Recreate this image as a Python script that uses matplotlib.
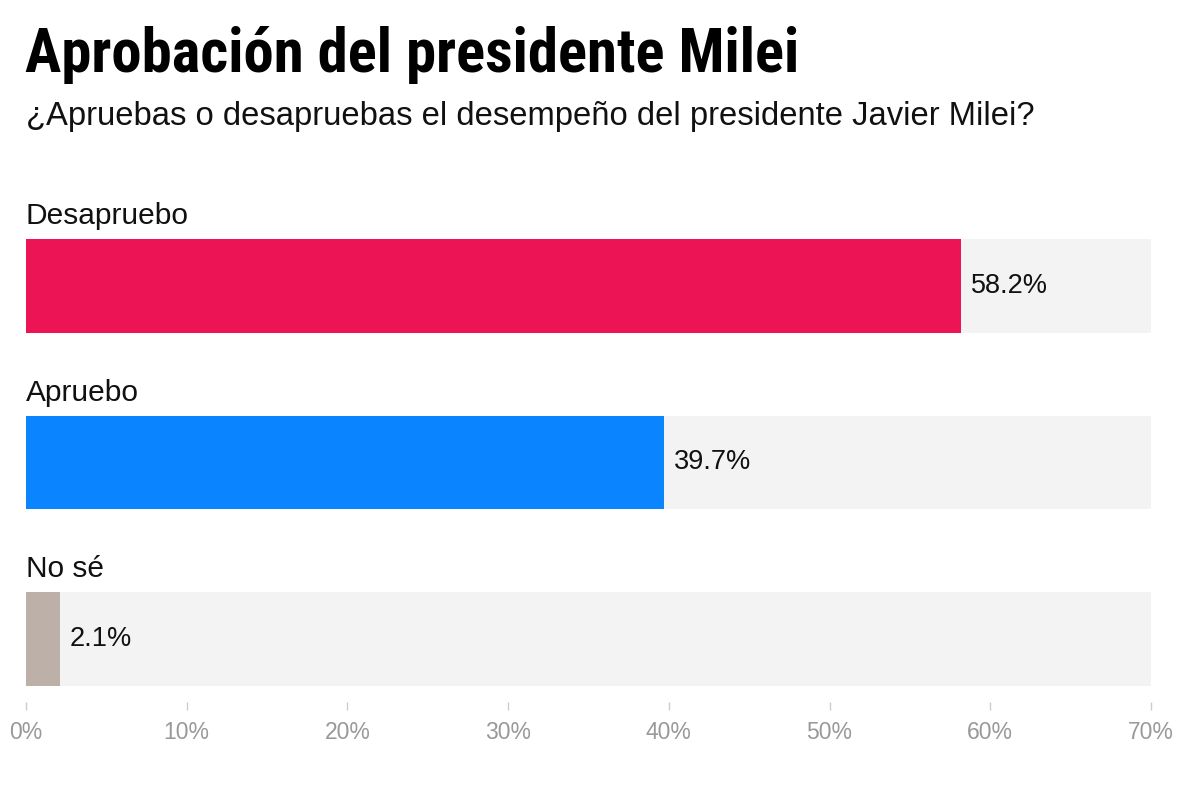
import matplotlib.pyplot as plt

# data
categories = ["Desapruebo", "Apruebo", "No sé"]
values = [58.2, 39.7, 2.1]
colors = ["#EC1454", "#0A84FF", "#BCB0A9"]
ticks = [0, 10, 20, 30, 40, 50, 60, 70]
tick_labels = [f"{t}%" for t in ticks]

plt.rcParams['font.family'] = ['Liberation Sans', 'DejaVu Sans']

fig = plt.figure(figsize=(12, 8), dpi=100)
ax = fig.add_axes([26 / 1200, 1 - 702 / 800, 1125 / 1200, 502 / 800])

bar_h = 0.53
y = list(range(len(categories)))

# light background track up to the axis max
ax.barh(y, [70] * len(y), height=bar_h, color="#F3F3F3", zorder=1)
ax.barh(y, values, height=bar_h, color=colors, zorder=2)

for i, (cat, v) in enumerate(zip(categories, values)):
    ax.text(0, i - bar_h / 2 - 0.085, cat, fontsize=21.5, color="#111111",
            va="baseline", ha="left")
    ax.annotate(f"{v}%", xy=(v, i), xytext=(7, 0), textcoords="offset points",
                va="center", ha="left", fontsize=19.5, color="#111111", zorder=3)

ax.set_xlim(0, 70)
ax.set_ylim(2.357, -0.487)
ax.set_xticks(ticks)
ax.set_xticklabels(tick_labels, fontsize=16.5, color="#999999")
ax.tick_params(axis="x", length=6, color="#CCCCCC", width=1, pad=8)
ax.set_yticks([])
for s in ax.spines.values():
    s.set_visible(False)

fig.text(25 / 1200, 1 - 55 / 800, "Aprobación del presidente Milei", fontsize=43.7,
         fontweight="bold", va="center", ha="left", color="#000000",
         family=['Roboto Condensed', 'Roboto', 'DejaVu Sans'])
fig.text(26 / 1200, 1 - 117 / 800,
         "¿Apruebas o desapruebas el desempeño del presidente Javier Milei?",
         fontsize=23.6, va="center", ha="left", color="#111111")

fig.savefig("out.png", dpi=100, facecolor="white")
